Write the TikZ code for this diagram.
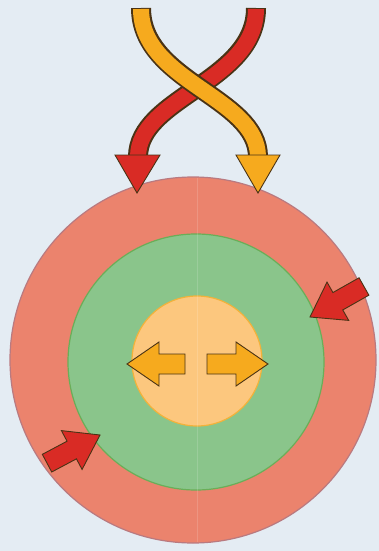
\documentclass[tikz,border=0pt]{standalone}
\usetikzlibrary{calc}
\definecolor{Back}{HTML}{E4ECF3}
\definecolor{Crust}{HTML}{EB836D}
\definecolor{CrustLine}{HTML}{B97A80}
\definecolor{Mantle}{HTML}{8AC58B}
\definecolor{MantleLine}{HTML}{6AAE58}
\definecolor{Core}{HTML}{FCC77E}
\definecolor{CoreLine}{HTML}{F2B23A}
\definecolor{Hot}{HTML}{D92B25}
\definecolor{Warm}{HTML}{F6AA1E}
\definecolor{Edge}{HTML}{4A3315}
\tikzset{
    ring/.style={line width=1.2pt},
    arrowline/.style={draw=Edge, line width=0.9pt, line join=miter},
    bandout/.style={line width=20pt, color=Edge},
}
% fat arrow: colour, tip, angle, length
\newcommand{\fatarrow}[4]{%
    \begin{scope}[shift={#2}, rotate=#3]
        \filldraw[arrowline, fill=#1] (0,0) -- (-32,22) -- (-32,10) -- (-#4,10)
            -- (-#4,-10) -- (-32,-10) -- (-32,-22) -- cycle;
    \end{scope}}

\begin{document}
\begin{tikzpicture}[x=1pt, y=-1pt]
    % Sfondo
    \fill[Back] (0,0) rectangle (379,551);
    \useasboundingbox (0,0) rectangle (379,551);

    % Strati
    \filldraw[ring, fill=Crust, draw=CrustLine] (193,360) circle (183);
    \filldraw[ring, fill=Mantle, draw=MantleLine] (196,362) circle (128);
    \filldraw[ring, fill=Core, draw=CoreLine] (197,361) circle (65);
    \draw[white, opacity=0.15, line width=0.6pt] (197,178) -- (197,542);

    % Frecce incrociate (rossa sotto, gialla sopra)
    \draw[bandout] (256,8) .. controls (256,82) and (138,97) .. (138,157);
    \draw[line width=16pt, Hot] (256,9) .. controls (256,82) and (138,97) .. (138,157);
    \filldraw[arrowline, fill=Hot] (115,155) -- (160,155) -- (137,193) -- cycle;
    \draw[bandout] (141,8) .. controls (141,82) and (258,97) .. (258,157);
    \draw[line width=16pt, Warm] (141,9) .. controls (141,82) and (258,97) .. (258,157);
    \filldraw[arrowline, fill=Warm] (236,155) -- (280,155) -- (258,193) -- cycle;

    % Frecce sul guscio
    \fatarrow{Hot}{(310,317)}{209.5}{62}
    \fatarrow{Hot}{(100,435)}{28}{60}

    % Frecce nel nucleo
    \fatarrow{Warm}{(127,364)}{180}{58}
    \fatarrow{Warm}{(268,364)}{0}{61}
\end{tikzpicture}
\end{document}
